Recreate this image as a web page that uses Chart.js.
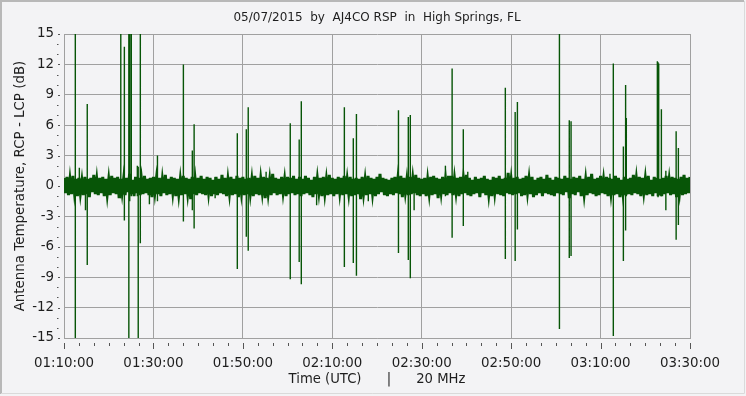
<!DOCTYPE html>
<html>
<head>
<meta charset="utf-8">
<script src="https://cdn.jsdelivr.net/npm/chart.js@4/dist/chart.umd.min.js"></script>
<style>
    html, body { margin: 0; padding: 0; background: #f3f3f5; }
    #contenedor { width: 746px; height: 396px; }
</style>
</head>
<body>
<div id="contenedor"><canvas id="rsp-grafica" width="746" height="396"></canvas></div>
<script>
// 01:10:00 UTC en segundos
const horaInicio = 1 * 3600 + 10 * 60;
const duracion = 140 * 60;
const pasoRuido = 20; // segundos entre muestras del ruido

// ruido de fondo (dB), una muestra cada 20 s
const ruido = [
    0.8,-0.7,0.9,-0.9,0.6,-0.8,1.0,-0.6,0.7,-1.0,0.8,-0.7,0.5,-0.9,0.9,-0.8,0.7,-1.1,0.8,-0.6,
    1.1,-0.8,0.6,-0.9,0.8,-0.7,0.9,-1.0,0.7,-0.8,0.6,-0.9,1.0,-0.7,0.8,-0.8,0.9,-1.2,0.7,-0.6,
    0.7,-0.9,0.8,-0.6,1.2,-0.8,0.6,-1.0,0.9,-0.7,0.8,-0.9,0.6,-0.8,1.0,-0.7,0.7,-0.9,0.8,-1.1,
    0.9,-0.6,0.7,-0.8,0.8,-1.0,0.6,-0.7,1.1,-0.9,0.7,-0.8,0.9,-0.6,0.8,-1.0,0.7,-0.8,0.6,-0.9,
    1.0,-0.8,0.8,-0.7,0.7,-1.3,0.9,-0.8,0.6,-0.9,0.8,-0.7,1.0,-0.8,0.7,-0.9,0.9,-0.6,0.8,-1.0,
    0.6,-0.8,0.9,-0.9,0.7,-0.7,1.1,-0.8,0.8,-1.0,0.6,-0.7,0.9,-0.9,0.7,-0.8,1.0,-1.1,0.8,-0.6,
    0.9,-0.9,0.7,-0.8,0.8,-0.7,0.6,-1.0,1.0,-0.8,0.8,-0.9,0.7,-0.6,0.9,-1.2,0.8,-0.7,0.6,-0.9,
    1.2,-0.7,0.8,-0.9,0.7,-0.8,0.9,-0.6,0.6,-1.0,0.9,-0.8,0.8,-0.7,1.0,-0.9,0.7,-0.8,0.9,-1.0,
    0.7,-0.8,1.0,-0.7,0.8,-0.9,0.6,-1.1,0.9,-0.8,0.7,-0.6,0.8,-1.0,0.9,-0.7,0.6,-0.9,1.1,-0.8,
    0.8,-1.0,0.7,-0.8,0.9,-0.6,0.8,-0.9,1.0,-0.8,0.6,-0.7,0.9,-1.0,0.7,-0.9,0.8,-0.8,0.7,-1.3,
    0.9,-0.7,0.6,-0.9,1.0,-0.8,0.8,-0.7,0.7,-1.0,0.9,-0.8,1.2,-0.6,0.8,-0.9,0.7,-1.0,0.6,-0.8,
    0.8,-0.9,0.9,-0.7,0.7,-0.8,1.0,-1.1,0.8,-0.6,0.6,-0.9,0.9,-0.8,0.7,-0.7,1.1,-0.9,0.8,-1.0,
    0.7,-0.8,0.8,-1.0,0.6,-0.7,0.9,-0.9,1.0,-0.8,0.8,-1.2,0.7,-0.6,0.9,-0.8,0.6,-0.9,1.0,-0.7,
    1.0,-0.9,0.7,-0.6,0.8,-1.0,0.9,-0.8,0.7,-0.7,1.1,-0.9,0.8,-1.0,0.6,-0.8,0.9,-0.7,0.7,-1.1,
    0.8,-0.7,1.0,-0.9,0.7,-0.8,0.6,-1.0,0.9,-0.6,0.8,-0.8,1.0,-0.9,0.7,-1.0,0.8,-0.7,1.3,-0.8,
    0.6,-0.9,0.8,-0.8,0.9,-0.7,0.7,-1.0,0.8,-0.9,1.0,-0.6,0.7,-0.8,0.9,-1.1,0.6,-0.9,0.8,-0.7,
    0.9,-1.0,0.7,-0.7,1.1,-0.8,0.8,-0.9,0.6,-1.0,0.9,-0.7,0.8,-0.8,0.7,-0.9,1.0,-0.6,0.8,-1.2,
    0.7,-0.8,0.9,-0.9,0.8,-0.6,1.0,-1.0,0.7,-0.8,0.6,-0.9,0.9,-0.7,1.2,-0.8,0.7,-1.0,0.8,-0.9,
    1.0,-0.7,0.6,-0.8,0.9,-1.0,0.8,-0.7,0.7,-0.9,1.0,-0.8,0.8,-1.1,0.6,-0.7,0.9,-0.9,0.7,-0.8,
    0.8,-0.9,1.1,-0.7,0.7,-0.8,0.9,-1.0,0.8,-0.6,0.7,-0.9,1.0,-0.8,0.6,-1.0,0.9,-0.7,0.8,-0.9,
    0.7,-1.0,0.8,-0.8,1.0,-0.7,0.6,-0.9,0.9,-0.8,0.8,-1.1,0.7,-0.6,0.9,-0.9,1.1,-0.8,0.8,-0.7,
    0.9
];

// picos: minutos despues de 01:10:00, maximo y minimo (dB)
const picosMinuto = [
    2.53, 3.43, 4.8, 5.2, 12.7, 13.5, 14.5, 14.7, 15.05, 16.4, 16.6, 17.07, 19.1, 20.9,
    26.7, 28.7, 29.1, 33.8, 38.76, 40.77, 41.2, 45.2, 50.6, 52.6, 53.07, 56.5, 62.7, 64.7,
    65.4, 68.05, 74.8, 77.0, 77.45, 78.3, 85.3, 86.8, 89.3, 90.3, 98.7, 100.9, 101.4, 110.8,
    113.0, 113.4, 122.1, 122.85, 125.1, 125.6, 125.76, 132.7, 132.85, 133.0, 133.6, 134.6,
    136.9, 137.4
];
const picosAlto = [
    15, 1.8, 0.9, 8.1, 15, 13.75, 15, 15, 15, 2.0, 1.9, 15, 0.8, 3.0,
    12.0, 3.5, 6.1, 0.9, 5.2, 5.6, 7.76, 1.4, 6.2, 4.6, 8.36, 0.9, 7.76, 4.7,
    7.1, 0.9, 7.47, 6.8, 7.0, 0.9, 2.0, 11.6, 5.6, 1.4, 9.7, 7.3, 8.3, 15,
    6.5, 6.4, 1.2, 12.1, 3.9, 9.97, 6.7, 12.3, 12.2, 12.1, 7.57, 1.5,
    5.4, 3.75
];
const picosBajo = [
    -15, -0.9, -2.4, -7.8, -1.2, -3.4, -15, -1.5, -1.0, -1.0, -15, -5.66, -1.8, -1.5,
    -3.5, -2.4, -4.2, -1.2, -8.2, -5.0, -6.4, -0.9, -9.2, -7.5, -9.7, -1.9, -8.0, -7.6,
    -8.85, -1.5, -6.6, -7.3, -9.1, -2.4, -1.0, -5.1, -3.95, -0.9, -7.2, -7.4, -4.3, -14.1,
    -7.1, -6.9, -0.9, -14.8, -7.4, -4.4, -1.0, -1.0, -1.1, -1.0, -1.0, -2.4,
    -5.3, -3.85
];

const tituloGrafica = '05/07/2015  by  AJ4CO RSP  in  High Springs, FL';
const colorLinea = '#075507';
const colorRejilla = '#a0a0a0';
const colorTexto = '#1e1e1e';
const fuente = 'DejaVu Sans';

function formatoHora(seg) {
    const t = horaInicio + seg;
    const h = Math.floor(t / 3600);
    const m = Math.floor((t % 3600) / 60);
    const s = Math.round(t % 60);
    return [h, m, s].map(n => String(n).padStart(2, '0')).join(':');
}

const datosRuido = ruido.map((v, i) => ({ x: i * pasoRuido, y: v }));
const datosPicos = [];
picosMinuto.forEach((m, i) => {
    datosPicos.push({ x: m * 60, y: picosBajo[i] });
    datosPicos.push({ x: m * 60, y: picosAlto[i] });
    datosPicos.push({ x: m * 60, y: null });
});

// titulo centrado sobre el area de la grafica, marcas pequenas de los ejes y marco exterior
const marcasEjes = {
    id: 'marcasEjes',
    afterDraw(chart) {
        const ctx = chart.ctx;
        const x = chart.scales.x;
        const y = chart.scales.y;
        const area = chart.chartArea;
        ctx.save();

        ctx.fillStyle = colorTexto;
        ctx.font = '12px "' + fuente + '"';
        ctx.textAlign = 'center';
        ctx.textBaseline = 'middle';
        ctx.fillText(tituloGrafica, (area.left + area.right) / 2, 18);

        ctx.strokeStyle = '#555';
        ctx.lineWidth = 1;
        ctx.beginPath();
        for (let s = 0; s <= duracion; s += 200) {
            const px = Math.round(x.getPixelForValue(s)) + 0.5;
            const largo = s % 1200 === 0 ? 6 : 3;
            ctx.moveTo(px, area.bottom + 5);
            ctx.lineTo(px, area.bottom + 5 + largo);
        }
        for (let v = -15; v <= 15; v += 1) {
            const py = Math.round(y.getPixelForValue(v)) + 0.5;
            if (v % 3 === 0) {
                ctx.moveTo(area.left - 6, py);
                ctx.lineTo(area.left - 4, py);
            } else {
                ctx.moveTo(area.left - 7, py);
                ctx.lineTo(area.left - 5.5, py);
            }
        }
        ctx.stroke();

        ctx.strokeStyle = '#b8b8b8';
        ctx.lineWidth = 2;
        ctx.beginPath();
        ctx.moveTo(1, chart.height - 2);
        ctx.lineTo(1, 1);
        ctx.lineTo(chart.width - 2, 1);
        ctx.stroke();
        ctx.strokeStyle = '#dadada';
        ctx.lineWidth = 1;
        ctx.beginPath();
        ctx.moveTo(chart.width - 1.5, 1);
        ctx.lineTo(chart.width - 1.5, chart.height - 2.5);
        ctx.lineTo(1, chart.height - 2.5);
        ctx.stroke();
        ctx.restore();
    }
};

const ctx = document.getElementById('rsp-grafica');

new Chart(ctx, {
    type: 'line',
    data: {
        datasets: [{
            data: datosRuido,
            borderColor: colorLinea,
            borderWidth: 3,
            pointRadius: 0,
            tension: 0
        }, {
            data: datosPicos,
            borderColor: colorLinea,
            borderWidth: 1.4,
            pointRadius: 0,
            tension: 0,
            spanGaps: false
        }]
    },
    options: {
        responsive: false,
        animation: false,
        layout: {
            padding: { left: 3, right: 56, top: 34, bottom: 0 }
        },
        scales: {
            x: {
                type: 'linear',
                min: 0,
                max: duracion,
                afterFit(scale) { scale.height = 58; },
                ticks: {
                    stepSize: 1200,
                    autoSkip: false,
                    maxRotation: 0,
                    padding: 17,
                    color: colorTexto,
                    font: { family: fuente, size: 13.4 },
                    callback: v => formatoHora(v)
                },
                grid: { color: colorRejilla, drawTicks: false },
                border: { color: colorRejilla },
                title: {
                    display: true,
                    text: 'Time (UTC)      |      20 MHz',
                    color: colorTexto,
                    font: { family: fuente, size: 13.2 },
                    padding: { top: 0, bottom: 9 }
                }
            },
            y: {
                min: -15,
                max: 15,
                afterFit(scale) { scale.width = 61; },
                ticks: {
                    stepSize: 3,
                    padding: 10,
                    color: colorTexto,
                    font: { family: fuente, size: 13.4 }
                },
                grid: { color: colorRejilla, drawTicks: false },
                border: { color: colorRejilla },
                title: {
                    display: true,
                    text: 'Antenna Temperature, RCP - LCP (dB)',
                    color: colorTexto,
                    font: { family: fuente, size: 13.4 },
                    padding: { top: 9, bottom: 0 }
                }
            }
        },
        plugins: {
            legend: { display: false },
            tooltip: { enabled: false },
            title: { display: false }
        }
    },
    plugins: [marcasEjes]
});
</script>
</body>
</html>
